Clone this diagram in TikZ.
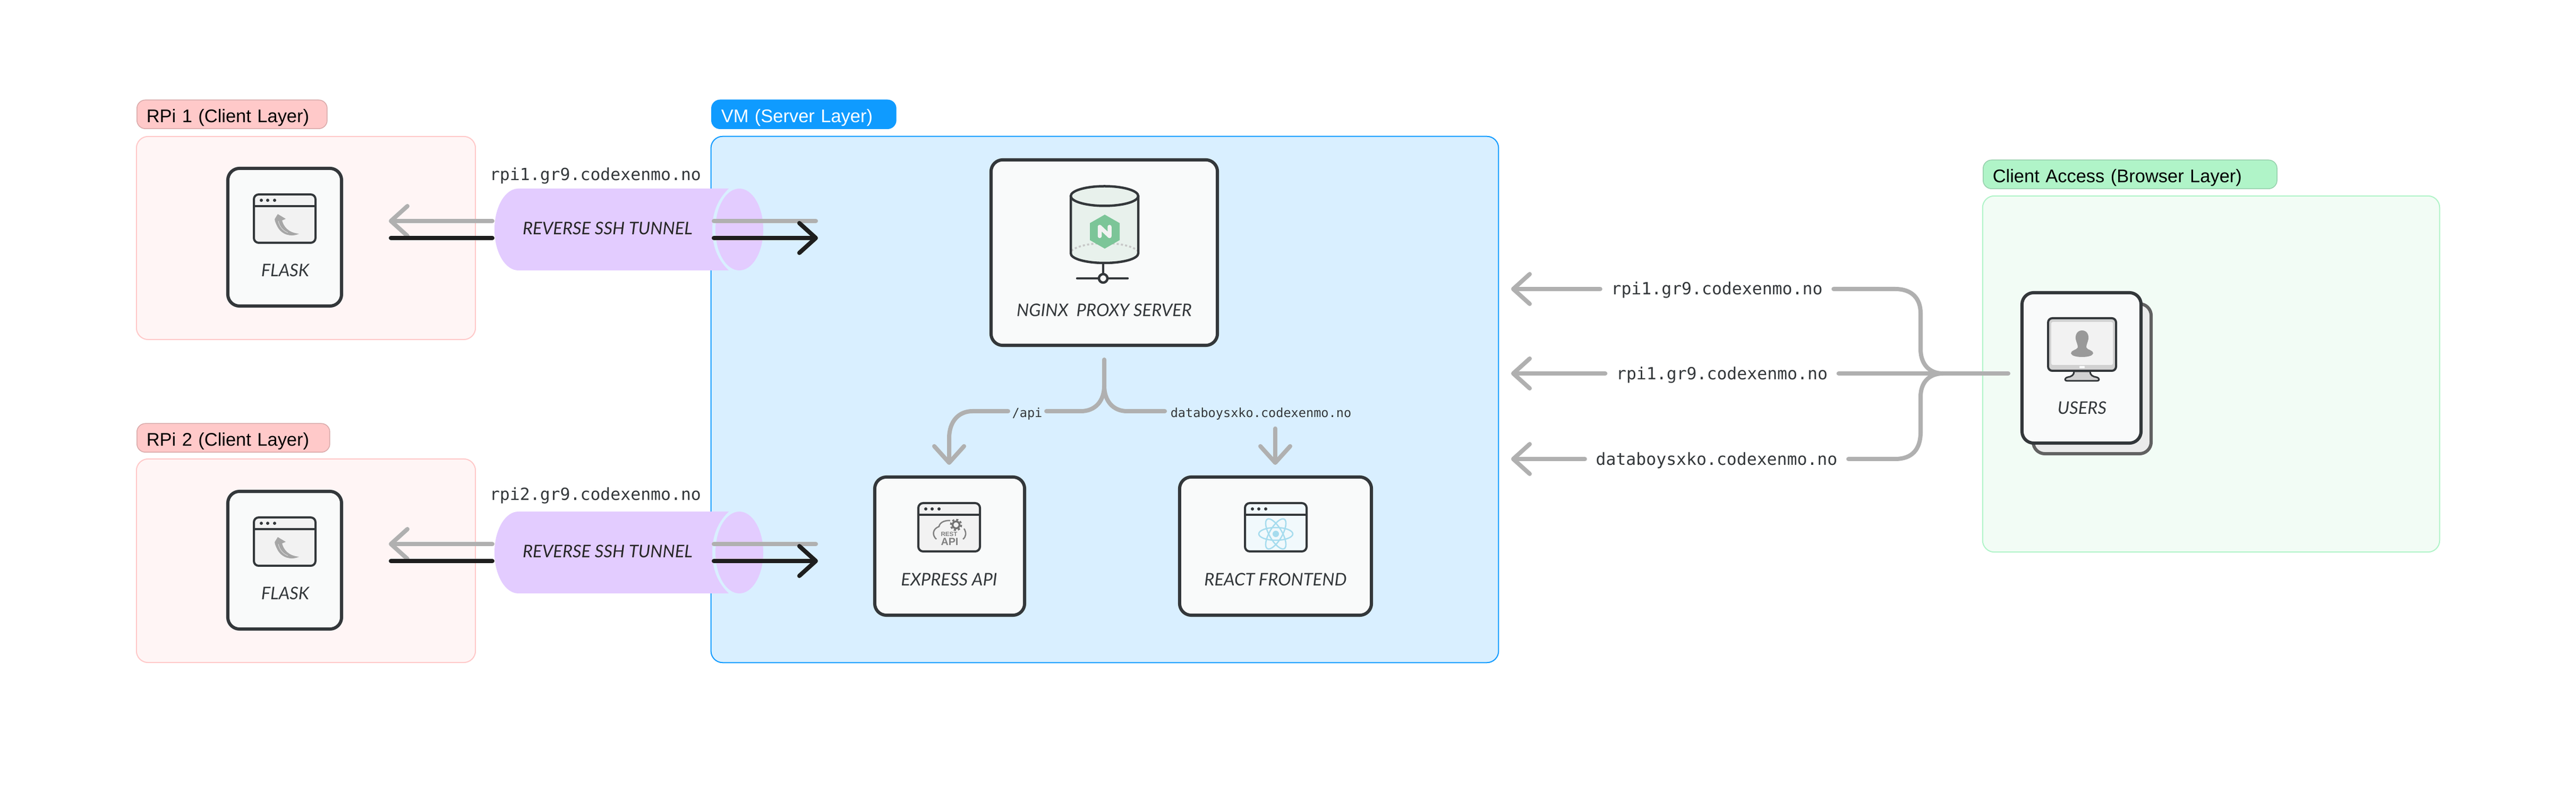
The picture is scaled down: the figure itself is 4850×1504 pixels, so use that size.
\documentclass[tikz,border=0pt]{standalone}
\usepackage{fontspec}
\setmainfont{Liberation Sans}
\setmonofont{DejaVu Sans Mono}
\newfontfamily\cardfont{Lato}
\usetikzlibrary{arrows.meta}

\definecolor{inkdark}{HTML}{33373A}
\definecolor{arrowgray}{HTML}{B0B0B0}
\definecolor{arrowblack}{HTML}{1E1E1E}
\definecolor{cardfill}{HTML}{F9FAFA}
\definecolor{winfill}{HTML}{F2F2F2}
\definecolor{tunnelfill}{HTML}{E3CCFF}
\definecolor{redtag}{HTML}{FFC9C9}
\definecolor{redtagline}{HTML}{D9A9A9}
\definecolor{redpanel}{HTML}{FFF5F5}
\definecolor{bluetag}{HTML}{0F9BFF}
\definecolor{bluepanel}{HTML}{D9EFFF}
\definecolor{greentag}{HTML}{B0F4C8}
\definecolor{greentagline}{HTML}{96D0AC}
\definecolor{greenpanel}{HTML}{F2FCF5}
\definecolor{nginxgreen}{HTML}{7CC598}
\definecolor{cylfill}{HTML}{E8F1EC}
\definecolor{reactblue}{HTML}{A6DCEE}

\tikzset{
	panelbox/.style={draw, line width=.2mm, rounded corners=2.2mm, inner sep=0pt},
	tagbox/.style={draw, line width=.15mm, rounded corners=1.6mm, anchor=south west, inner xsep=.18cm, inner ysep=0pt, minimum height=.54cm, text height=.3cm, text depth=0cm, font=\fontsize{9.8pt}{11pt}\selectfont},
	cardbox/.style={draw=inkdark, fill=cardfill, line width=.6mm, rounded corners=2.2mm, inner sep=0pt},
	cardtext/.style={text=inkdark, inner sep=0pt, font=\cardfont\itshape\fontsize{9.3pt}{10pt}\selectfont},
	urltext/.style={text=inkdark, inner xsep=.2cm, inner ysep=0pt, text height=.3cm, text depth=.08cm, font=\ttfamily\fontsize{8.95pt}{10pt}\selectfont},
	urlsmall/.style={text=inkdark, inner xsep=.1cm, inner ysep=.13cm, text height=.3cm, text depth=.08cm, font=\ttfamily\fontsize{6.7pt}{8pt}\selectfont},
	flowline/.style={draw=arrowgray, line width=.8mm, line cap=round},
	flowblack/.style={draw=arrowblack, line width=.8mm, line cap=round},
	flowtip/.style={-{Straight Barb[length=3.1mm,width=5.6mm,round]}},
}

\def\appwindow[#1](#2,#3){
	\draw[line width=.4mm, draw=inkdark, fill=#1, rounded corners=.9mm] (#2+2,#3+2) rectangle (#2+118,#3+93);
	\draw[line width=.4mm, draw=inkdark] (#2+2,#3+24) -- (#2+118,#3+24);
	\fill[inkdark] (#2+16,#3+13) circle (3);
	\fill[inkdark] (#2+28,#3+13) circle (3);
	\fill[inkdark] (#2+41,#3+13) circle (3);
}
\def\flaskhorn(#1,#2){
	\fill[black!35, shift={(#1,#2)}] (47,39) -- (62,48) -- (55,51) .. controls (58,62) and (66,74) .. (87,76) .. controls (72,83) and (54,78) .. (46,62) .. controls (42,54) and (40,48) .. (42,47) -- cycle;
	\draw[black!15, line width=.1mm, shift={(#1,#2)}] (48,52) .. controls (50,62) and (56,70) .. (66,74);
}
\def\sshtunnel(#1){
	\fill[tunnelfill, shift={(0,#1)}] (976,355) .. controls (951,355) and (931,389.5) .. (931,432) .. controls (931,474.5) and (951,509) .. (976,509) -- (1372,509) .. controls (1352,490) and (1341,465) .. (1341,432) .. controls (1341,399) and (1352,374) .. (1372,355) -- cycle;
	\fill[tunnelfill, shift={(0,#1)}] (1392,432) ellipse (45 and 77);
}

\begin{document}
\begin{tikzpicture}[x=.01cm, y=-.01cm]
	%%%%% START %%%%%
	\useasboundingbox (0,0) rectangle (4850,1504);
	\fill[white] (0,0) rectangle (4850,1504);

	% layers
	\node[panelbox, draw=redtag, fill=redpanel, minimum width=6.38cm, minimum height=3.82cm] (rpionepanel) at (576,448) {};
	\node[panelbox, draw=redtag, fill=redpanel, minimum width=6.38cm, minimum height=3.83cm] (rpitwopanel) at (576,1055.5) {};
	\node[panelbox, draw=bluetag, fill=bluepanel, minimum width=14.82cm, minimum height=9.9cm] (vmpanel) at (2080,752) {};
	\node[panelbox, draw=greentag, fill=greenpanel, minimum width=8.6cm, minimum height=6.7cm] (clientpanel) at (4163,704) {};

	\node[tagbox, draw=redtagline, fill=redtag, text width=3.22cm] (rpionetag) at (257,243) {RPi 1 (Client Layer)};
	\node[tagbox, draw=redtagline, fill=redtag, text width=3.27cm] (rpitwotag) at (257,852) {RPi 2 (Client Layer)};
	\node[tagbox, draw=bluetag, fill=bluetag, text=white, text width=3.11cm] (vmtag) at (1339,243) {VM (Server Layer)};
	\node[tagbox, draw=greentagline, fill=greentag, text width=5.17cm] (clienttag) at (3733,356) {Client Access (Browser Layer)};

	% flask cards
	\node[cardbox, minimum width=2.14cm, minimum height=2.59cm] (flaskone) at (536,446.5) {};
	\appwindow[winfill](476,364)
	\flaskhorn(476,364)
	\node[cardtext] (flaskonetext) at (537,509) {FLASK};

	\node[cardbox, minimum width=2.14cm, minimum height=2.59cm] (flasktwo) at (536,1054.5) {};
	\appwindow[winfill](476,972)
	\flaskhorn(476,972)
	\node[cardtext] (flasktwotext) at (537,1117) {FLASK};

	% tunnels
	\sshtunnel(0)
	\node[cardtext, text=black!85] (tunnelonetext) at (1144,430) {REVERSE SSH TUNNEL};
	\node[urltext] (rpioneurl) at (1121,329) {rpi1.gr9.codexenmo.no};
	\sshtunnel(608)
	\node[cardtext, text=black!85] (tunneltwotext) at (1144,1038) {REVERSE SSH TUNNEL};
	\node[urltext] (rpitwourl) at (1121,930) {rpi2.gr9.codexenmo.no};

	\coordinate (grayonetip) at (732,416);
	\coordinate (grayonestart) at (927,416);
	\coordinate (blackoneend) at (736,448);
	\coordinate (blackonestart) at (927,448);
	\coordinate (grayoneout) at (1344,416);
	\coordinate (grayoneend) at (1536,416);
	\coordinate (blackoneout) at (1344,448);
	\coordinate (blackonetip) at (1540,448);
	\draw[flowline, flowtip] (grayonestart) -- (grayonetip);
	\draw[flowblack] (blackonestart) -- (blackoneend);
	\draw[flowline] (grayoneout) -- (grayoneend);
	\draw[flowblack, flowtip] (blackoneout) -- (blackonetip);

	\coordinate (graytwotip) at (732,1024);
	\coordinate (graytwostart) at (927,1024);
	\coordinate (blacktwoend) at (736,1056);
	\coordinate (blacktwostart) at (927,1056);
	\coordinate (graytwoout) at (1344,1024);
	\coordinate (graytwoend) at (1536,1024);
	\coordinate (blacktwoout) at (1344,1056);
	\coordinate (blacktwotip) at (1540,1056);
	\draw[flowline, flowtip] (graytwostart) -- (graytwotip);
	\draw[flowblack] (blacktwostart) -- (blacktwoend);
	\draw[flowline] (graytwoout) -- (graytwoend);
	\draw[flowblack, flowtip] (blacktwoout) -- (blacktwotip);

	% nginx
	\node[cardbox, minimum width=4.26cm, minimum height=3.49cm] (nginxcard) at (2079,475.5) {};
	\fill[cylfill] (2016,369) -- (2016,477) .. controls (2016,487) and (2044,495) .. (2079.5,495) .. controls (2115,495) and (2143,487) .. (2143,477) -- (2143,369) -- cycle;
	\draw[draw=black!22, line width=.35mm, dash pattern=on .4mm off .4mm] (2017,472) .. controls (2040,453) and (2120,453) .. (2142,472);
	\fill[nginxgreen] (2080,404) -- (2108,420) -- (2108,452) -- (2080,468) -- (2052,452) -- (2052,420) -- cycle;
	\draw[draw=winfill, line width=.75mm, line cap=round, line join=round] (2070.5,444.5) -- (2070.5,427) -- (2089,444.5) -- (2089,427);
	\draw[draw=inkdark, line width=.45mm] (2016,369) -- (2016,477) .. controls (2016,487) and (2044,495) .. (2079.5,495) .. controls (2115,495) and (2143,487) .. (2143,477) -- (2143,369);
	\draw[draw=inkdark, fill=cylfill, line width=.45mm] (2079.5,369) ellipse (63.5 and 18.5);
	\draw[draw=inkdark, line width=.45mm] (2077,497) -- (2077,516);
	\draw[draw=inkdark, line width=.45mm, line cap=round] (2028,524) -- (2123,524);
	\draw[draw=inkdark, fill=cardfill, line width=.45mm] (2077,524) circle (8);
	\node[cardtext] (nginxtext) at (2079,583.5) {NGINX\ \ PROXY SERVER};

	% express
	\node[cardbox, minimum width=2.82cm, minimum height=2.6cm] (expresscard) at (1788,1028) {};
	\appwindow[winfill](1727,945)
	\draw[draw=black!50, line width=.25mm] (1763,1015) .. controls (1755,1008) and (1755,996) .. (1768,991) .. controls (1769,984) and (1778,979) .. (1789,980);
	\draw[draw=black!50, line width=.25mm] (1815,995) .. controls (1820,1003) and (1819,1010) .. (1813,1015);
	\draw[draw=black!55, line width=.35mm] (1800,988) circle (6.5);
	\draw[draw=black!55, line width=.3mm, dash pattern=on .4mm off .385mm] (1800,988) circle (10);
	\node[inner sep=0pt, text=black!50, font=\bfseries\fontsize{3.3pt}{4pt}\selectfont] (resttext) at (1787,1006) {REST};
	\node[inner sep=0pt, text=black!50, font=\bfseries\fontsize{5.6pt}{6pt}\selectfont] (apitext) at (1788,1020) {API};
	\node[cardtext] (expresstext) at (1787,1091) {EXPRESS API};

	% react
	\node[cardbox, minimum width=3.61cm, minimum height=2.6cm] (reactcard) at (2401.5,1028) {};
	\appwindow[cardfill!40!reactblue!25!white](2342,945)
	\draw[draw=reactblue, line width=.25mm] (2402,1005) ellipse (32 and 12);
	\draw[draw=reactblue, line width=.25mm, rotate around={60:(2402,1005)}] (2402,1005) ellipse (32 and 12);
	\draw[draw=reactblue, line width=.25mm, rotate around={120:(2402,1005)}] (2402,1005) ellipse (32 and 12);
	\fill[reactblue] (2402,1005) circle (6);
	\node[cardtext] (reacttext) at (2401.5,1091) {REACT FRONTEND};

	% proxy routes
	\node[urlsmall, inner xsep=.07cm] (apiurl) at (1934,774) {/api};
	\node[urlsmall] (reacturl) at (2374,774) {databoysxko.codexenmo.no};
	\coordinate (proxyout) at (2079,677);
	\coordinate (proxyfork) at (2079,726);
	\coordinate (apitip) at (1787,875);
	\coordinate (reacttip) at (2401,875);
	\draw[flowline] (proxyout) -- (proxyfork) .. controls (2079,755) and (2062,774) .. (2035,774) -- (apiurl.east);
	\draw[flowline] (proxyfork) .. controls (2079,755) and (2096,774) .. (2122,774) -- (reacturl.west);
	\draw[flowline, flowtip] (apiurl.west) -- (1831,774) .. controls (1805,774) and (1787,793) .. (1787,825) -- (apitip);
	\draw[flowline, flowtip] (reacttip |- reacturl.south) -- (reacttip);

	% users
	\node[cardbox, draw=black!62, fill=black!8, minimum width=2.22cm, minimum height=2.82cm] (usersback) at (3939,713) {};
	\node[cardbox, minimum width=2.24cm, minimum height=2.83cm] (usersfront) at (3919,692.5) {};
	\draw[draw=inkdark, fill=black!18, line width=.3mm, line join=round] (3905,699) .. controls (3905,706) and (3900,709) .. (3893,710) .. controls (3886,712) and (3887,717) .. (3892,717) -- (3948,717) .. controls (3953,717) and (3954,712) .. (3947,710) .. controls (3940,709) and (3935,706) .. (3935,699) -- cycle;
	\draw[draw=inkdark, fill=black!18, line width=.4mm, rounded corners=.8mm] (3856,599) rectangle (3984,698);
	\fill[winfill, rounded corners=.3mm] (3862,606) rectangle (3978,687);
	\fill[cardfill, rounded corners=.1mm] (3915,689) rectangle (3925,693);
	\fill[black!40] (3920,622) .. controls (3911,622) and (3907,630) .. (3908,638) .. controls (3909,644) and (3912,648) .. (3912,654) .. controls (3910,659) and (3899,659) .. (3899,665) .. controls (3900,670) and (3910,672) .. (3920,672) .. controls (3930,672) and (3940,670) .. (3941,665) .. controls (3941,659) and (3930,659) .. (3928,654) .. controls (3928,648) and (3931,644) .. (3932,638) .. controls (3933,630) and (3929,622) .. (3920,622) -- cycle;
	\node[cardtext] (userstext) at (3920,767.5) {USERS};

	% client routes
	\node[urltext] (urlone) at (3232.5,544) {rpi1.gr9.codexenmo.no};
	\node[urltext] (urltwo) at (3242,703) {rpi1.gr9.codexenmo.no};
	\node[urltext] (urlthree) at (3232,864) {databoysxko.codexenmo.no};
	\coordinate (tipone) at (2845,544);
	\coordinate (tiptwo) at (2845,703);
	\coordinate (tipthree) at (2845,864);
	\coordinate (clientfork) at (3658,703);
	\coordinate (usersin) at (3781,703);
	\draw[flowline, flowtip] (urlone.west) -- (tipone);
	\draw[flowline, flowtip] (urltwo.west) -- (tiptwo);
	\draw[flowline, flowtip] (urlthree.west) -- (tipthree);
	\draw[flowline] (urlone.east) -- (3568,544) .. controls (3600,544) and (3616,562) .. (3616,590) -- (3616,657) .. controls (3616,685) and (3632,703) .. (clientfork);
	\draw[flowline] (urlthree.east) -- (3568,864) .. controls (3600,864) and (3616,846) .. (3616,813) -- (3616,747) .. controls (3616,720) and (3632,703) .. (clientfork);
	\draw[flowline] (urltwo.east) -- (usersin);
	%%%%% END %%%%%
\end{tikzpicture}
\end{document}
